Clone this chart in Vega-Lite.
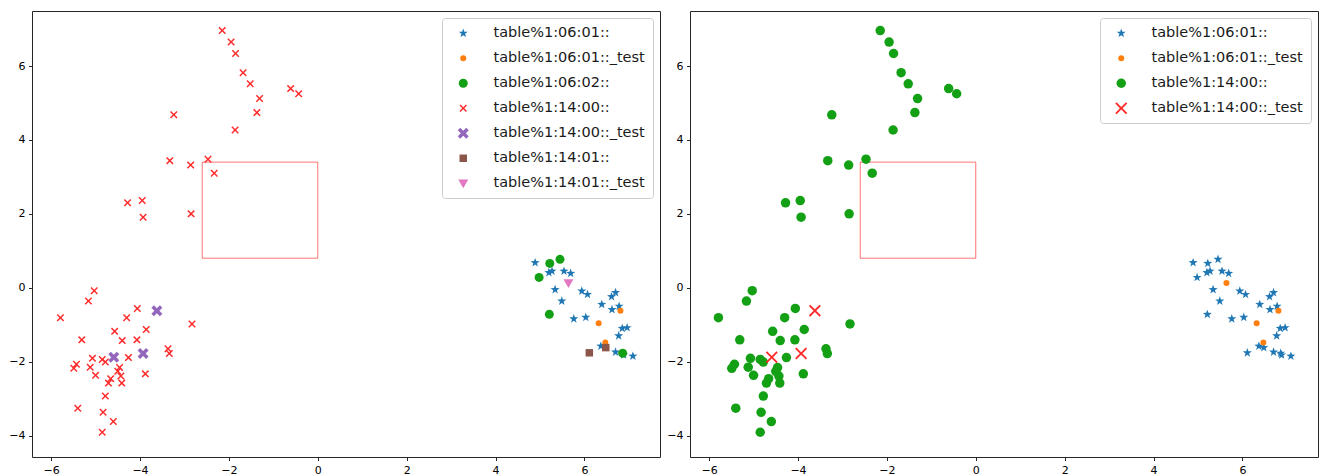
{
  "$schema": "https://vega.github.io/schema/vega-lite/v6.json",
  "background": "white",
  "padding": {"top": 10, "left": 8, "right": 0, "bottom": 0},
  "spacing": 5,
  "datasets": {
    "box": [{"x0": -2.6, "x1": 0, "y0": 0.8, "y1": 3.4}],
    "pts": [
      {"x": -2.15, "y": 6.96, "l": "table%1:14:00::", "r": "table%1:14:00::"},
      {"x": -1.95, "y": 6.65, "l": "table%1:14:00::", "r": "table%1:14:00::"},
      {"x": -1.85, "y": 6.34, "l": "table%1:14:00::", "r": "table%1:14:00::"},
      {"x": -1.68, "y": 5.82, "l": "table%1:14:00::", "r": "table%1:14:00::"},
      {"x": -1.52, "y": 5.52, "l": "table%1:14:00::", "r": "table%1:14:00::"},
      {"x": -1.31, "y": 5.12, "l": "table%1:14:00::", "r": "table%1:14:00::"},
      {"x": -1.37, "y": 4.74, "l": "table%1:14:00::", "r": "table%1:14:00::"},
      {"x": -1.86, "y": 4.27, "l": "table%1:14:00::", "r": "table%1:14:00::"},
      {"x": -0.61, "y": 5.39, "l": "table%1:14:00::", "r": "table%1:14:00::"},
      {"x": -0.43, "y": 5.25, "l": "table%1:14:00::", "r": "table%1:14:00::"},
      {"x": -3.24, "y": 4.68, "l": "table%1:14:00::", "r": "table%1:14:00::"},
      {"x": -3.33, "y": 3.44, "l": "table%1:14:00::", "r": "table%1:14:00::"},
      {"x": -2.86, "y": 3.32, "l": "table%1:14:00::", "r": "table%1:14:00::"},
      {"x": -2.47, "y": 3.48, "l": "table%1:14:00::", "r": "table%1:14:00::"},
      {"x": -2.33, "y": 3.10, "l": "table%1:14:00::", "r": "table%1:14:00::"},
      {"x": -4.28, "y": 2.30, "l": "table%1:14:00::", "r": "table%1:14:00::"},
      {"x": -3.95, "y": 2.36, "l": "table%1:14:00::", "r": "table%1:14:00::"},
      {"x": -3.93, "y": 1.91, "l": "table%1:14:00::", "r": "table%1:14:00::"},
      {"x": -2.85, "y": 2.00, "l": "table%1:14:00::", "r": "table%1:14:00::"},
      {"x": -5.03, "y": -0.08, "l": "table%1:14:00::", "r": "table%1:14:00::"},
      {"x": -5.16, "y": -0.36, "l": "table%1:14:00::", "r": "table%1:14:00::"},
      {"x": -5.79, "y": -0.81, "l": "table%1:14:00::", "r": "table%1:14:00::"},
      {"x": -4.06, "y": -0.56, "l": "table%1:14:00::", "r": "table%1:14:00::"},
      {"x": -4.30, "y": -0.81, "l": "table%1:14:00::", "r": "table%1:14:00::"},
      {"x": -2.83, "y": -0.98, "l": "table%1:14:00::", "r": "table%1:14:00::"},
      {"x": -3.86, "y": -1.13, "l": "table%1:14:00::", "r": "table%1:14:00::"},
      {"x": -4.57, "y": -1.18, "l": "table%1:14:00::", "r": "table%1:14:00::"},
      {"x": -5.31, "y": -1.41, "l": "table%1:14:00::", "r": "table%1:14:00::"},
      {"x": -4.40, "y": -1.43, "l": "table%1:14:00::", "r": "table%1:14:00::"},
      {"x": -4.07, "y": -1.41, "l": "table%1:14:00::", "r": "table%1:14:00::"},
      {"x": -3.37, "y": -1.65, "l": "table%1:14:00::", "r": "table%1:14:00::"},
      {"x": -3.34, "y": -1.78, "l": "table%1:14:00::", "r": "table%1:14:00::"},
      {"x": -4.26, "y": -1.89, "l": "table%1:14:00::", "r": "table%1:14:00::"},
      {"x": -5.07, "y": -1.91, "l": "table%1:14:00::", "r": "table%1:14:00::"},
      {"x": -4.85, "y": -1.94, "l": "table%1:14:00::", "r": "table%1:14:00::"},
      {"x": -4.78, "y": -2.01, "l": "table%1:14:00::", "r": "table%1:14:00::"},
      {"x": -5.43, "y": -2.07, "l": "table%1:14:00::", "r": "table%1:14:00::"},
      {"x": -5.49, "y": -2.18, "l": "table%1:14:00::", "r": "table%1:14:00::"},
      {"x": -5.12, "y": -2.15, "l": "table%1:14:00::", "r": "table%1:14:00::"},
      {"x": -4.46, "y": -2.16, "l": "table%1:14:00::", "r": "table%1:14:00::"},
      {"x": -4.50, "y": -2.26, "l": "table%1:14:00::", "r": "table%1:14:00::"},
      {"x": -5.00, "y": -2.37, "l": "table%1:14:00::", "r": "table%1:14:00::"},
      {"x": -4.43, "y": -2.39, "l": "table%1:14:00::", "r": "table%1:14:00::"},
      {"x": -4.66, "y": -2.46, "l": "table%1:14:00::", "r": "table%1:14:00::"},
      {"x": -4.71, "y": -2.58, "l": "table%1:14:00::", "r": "table%1:14:00::"},
      {"x": -4.41, "y": -2.58, "l": "table%1:14:00::", "r": "table%1:14:00::"},
      {"x": -3.88, "y": -2.33, "l": "table%1:14:00::", "r": "table%1:14:00::"},
      {"x": -4.78, "y": -2.93, "l": "table%1:14:00::", "r": "table%1:14:00::"},
      {"x": -5.40, "y": -3.26, "l": "table%1:14:00::", "r": "table%1:14:00::"},
      {"x": -4.83, "y": -3.37, "l": "table%1:14:00::", "r": "table%1:14:00::"},
      {"x": -4.60, "y": -3.62, "l": "table%1:14:00::", "r": "table%1:14:00::"},
      {"x": -4.85, "y": -3.91, "l": "table%1:14:00::", "r": "table%1:14:00::"},
      {"x": -3.62, "y": -0.62, "l": "table%1:14:00::_test", "r": "table%1:14:00::_test"},
      {"x": -4.59, "y": -1.88, "l": "table%1:14:00::_test", "r": "table%1:14:00::_test"},
      {"x": -3.93, "y": -1.78, "l": "table%1:14:00::_test", "r": "table%1:14:00::_test"},
      {"x": 4.89, "y": 0.68, "l": "table%1:06:01::", "r": "table%1:06:01::"},
      {"x": 5.22, "y": 0.66, "l": "table%1:06:02::", "r": "table%1:06:01::"},
      {"x": 5.45, "y": 0.77, "l": "table%1:06:02::", "r": "table%1:06:01::"},
      {"x": 4.98, "y": 0.28, "l": "table%1:06:02::", "r": "table%1:06:01::"},
      {"x": 5.20, "y": 0.41, "l": "table%1:06:01::", "r": "table%1:06:01::"},
      {"x": 5.27, "y": 0.45, "l": "table%1:06:01::", "r": "table%1:06:01::"},
      {"x": 5.54, "y": 0.45, "l": "table%1:06:01::", "r": "table%1:06:01::"},
      {"x": 5.69, "y": 0.39, "l": "table%1:06:01::", "r": "table%1:06:01::"},
      {"x": 5.34, "y": -0.05, "l": "table%1:06:01::", "r": "table%1:06:01::"},
      {"x": 5.94, "y": -0.09, "l": "table%1:06:01::", "r": "table%1:06:01::"},
      {"x": 6.07, "y": -0.18, "l": "table%1:06:01::", "r": "table%1:06:01::"},
      {"x": 5.49, "y": -0.36, "l": "table%1:06:01::", "r": "table%1:06:01::"},
      {"x": 5.21, "y": -0.72, "l": "table%1:06:02::", "r": "table%1:06:01::"},
      {"x": 5.76, "y": -0.84, "l": "table%1:06:01::", "r": "table%1:06:01::"},
      {"x": 6.03, "y": -0.80, "l": "table%1:06:01::", "r": "table%1:06:01::"},
      {"x": 6.39, "y": -0.45, "l": "table%1:06:01::", "r": "table%1:06:01::"},
      {"x": 6.62, "y": -0.59, "l": "table%1:06:01::", "r": "table%1:06:01::"},
      {"x": 6.61, "y": -0.24, "l": "table%1:06:01::", "r": "table%1:06:01::"},
      {"x": 6.70, "y": -0.13, "l": "table%1:06:01::", "r": "table%1:06:01::"},
      {"x": 6.78, "y": -0.50, "l": "table%1:06:01::", "r": "table%1:06:01::"},
      {"x": 6.85, "y": -1.10, "l": "table%1:06:01::", "r": "table%1:06:01::"},
      {"x": 6.96, "y": -1.08, "l": "table%1:06:01::", "r": "table%1:06:01::"},
      {"x": 6.77, "y": -1.30, "l": "table%1:06:01::", "r": "table%1:06:01::"},
      {"x": 6.37, "y": -1.58, "l": "table%1:06:01::", "r": "table%1:06:01::"},
      {"x": 6.48, "y": -1.62, "l": "table%1:14:01::", "r": "table%1:06:01::"},
      {"x": 6.11, "y": -1.76, "l": "table%1:14:01::", "r": "table%1:06:01::"},
      {"x": 6.70, "y": -1.74, "l": "table%1:06:01::", "r": "table%1:06:01::"},
      {"x": 6.86, "y": -1.77, "l": "table%1:06:02::", "r": "table%1:06:01::"},
      {"x": 6.88, "y": -1.82, "l": "table%1:06:01::", "r": "table%1:06:01::"},
      {"x": 7.09, "y": -1.85, "l": "table%1:06:01::", "r": "table%1:06:01::"},
      {"x": 5.64, "y": 0.13, "l": "table%1:14:01::_test", "r": "table%1:06:01::_test"},
      {"x": 6.81, "y": -0.62, "l": "table%1:06:01::_test", "r": "table%1:06:01::_test"},
      {"x": 6.32, "y": -0.96, "l": "table%1:06:01::_test", "r": "table%1:06:01::_test"},
      {"x": 6.47, "y": -1.48, "l": "table%1:06:01::_test", "r": "table%1:06:01::_test"}
    ]
  },
  "hconcat": [
    {
      "width": 628,
      "height": 446,
      "layer": [
        {
          "data": {"name": "box"},
          "mark": {"type": "rect", "filled": false, "stroke": "#ff0000", "strokeOpacity": 0.55, "strokeWidth": 1},
          "encoding": {
            "x": {"field": "x0", "type": "quantitative", "scale": {"domain": [-6.43, 7.7], "nice": false, "zero": false}, "axis": {"values": [-6, -4, -2, 0, 2, 4, 6], "title": null}},
            "x2": {"field": "x1"},
            "y": {"field": "y0", "type": "quantitative", "scale": {"domain": [-4.58, 7.49], "nice": false, "zero": false}, "axis": {"values": [-4, -2, 0, 2, 4, 6], "title": null}},
            "y2": {"field": "y1"}
          }
        },
        {
          "data": {"name": "pts"},
          "mark": {"type": "point", "filled": true, "opacity": 1, "strokeWidth": 0},
          "encoding": {
            "x": {"field": "x", "type": "quantitative", "title": null},
            "y": {"field": "y", "type": "quantitative", "title": null},
            "color": {
              "field": "l", "type": "nominal", "legend": {"title": null},
              "scale": {
                "domain": ["table%1:06:01::", "table%1:06:01::_test", "table%1:06:02::", "table%1:14:00::", "table%1:14:00::_test", "table%1:14:01::", "table%1:14:01::_test"],
                "range": ["#1f77b4", "#ff7f0e", "#14a014", "#ff2a2a", "#9467bd", "#8c564b", "#e377c2"]
              }
            },
            "shape": {
              "field": "l", "type": "nominal", "legend": {"title": null},
              "scale": {
                "domain": ["table%1:06:01::", "table%1:06:01::_test", "table%1:06:02::", "table%1:14:00::", "table%1:14:00::_test", "table%1:14:01::", "table%1:14:01::_test"],
                "range": [
                  "M0,-1L0.235,-0.324L0.951,-0.309L0.38,0.124L0.588,0.809L0,0.4L-0.588,0.809L-0.38,0.124L-0.951,-0.309L-0.235,-0.324Z",
                  "circle",
                  "circle",
                  "M0.724,-1L1,-0.724L0.276,0L1,0.724L0.724,1L0,0.276L-0.724,1L-1,0.724L-0.276,0L-1,-0.724L-0.724,-1L0,-0.276Z",
                  "M0.54,-1L1,-0.54L0.46,0L1,0.54L0.54,1L0,0.46L-0.54,1L-1,0.54L-0.46,0L-1,-0.54L-0.54,-1L0,-0.46Z",
                  "square",
                  "M-1,-0.75L1,-0.75L0,1Z"
                ]
              }
            },
            "size": {
              "field": "l", "type": "nominal", "legend": {"title": null},
              "scale": {
                "type": "ordinal",
                "domain": ["table%1:06:01::", "table%1:06:01::_test", "table%1:06:02::", "table%1:14:00::", "table%1:14:00::_test", "table%1:14:01::", "table%1:14:01::_test"],
                "range": [90, 36, 81, 56, 121, 56, 100]
              }
            },
            "order": {"field": "l", "type": "ordinal", "sort": "ascending"}
          }
        }
      ]
    },
    {
      "width": 628,
      "height": 446,
      "layer": [
        {
          "data": {"name": "box"},
          "mark": {"type": "rect", "filled": false, "stroke": "#ff0000", "strokeOpacity": 0.55, "strokeWidth": 1},
          "encoding": {
            "x": {"field": "x0", "type": "quantitative", "scale": {"domain": [-6.43, 7.7], "nice": false, "zero": false}, "axis": {"values": [-6, -4, -2, 0, 2, 4, 6], "title": null}},
            "x2": {"field": "x1"},
            "y": {"field": "y0", "type": "quantitative", "scale": {"domain": [-4.58, 7.49], "nice": false, "zero": false}, "axis": {"values": [-4, -2, 0, 2, 4, 6], "title": null}},
            "y2": {"field": "y1"}
          }
        },
        {
          "data": {"name": "pts"},
          "mark": {"type": "point", "filled": true, "opacity": 1, "strokeWidth": 0},
          "encoding": {
            "x": {"field": "x", "type": "quantitative", "title": null},
            "y": {"field": "y", "type": "quantitative", "title": null},
            "color": {
              "field": "r", "type": "nominal", "legend": {"title": null},
              "scale": {
                "domain": ["table%1:06:01::", "table%1:06:01::_test", "table%1:14:00::", "table%1:14:00::_test"],
                "range": ["#1f77b4", "#ff7f0e", "#14a014", "#ff2a2a"]
              }
            },
            "shape": {
              "field": "r", "type": "nominal", "legend": {"title": null},
              "scale": {
                "domain": ["table%1:06:01::", "table%1:06:01::_test", "table%1:14:00::", "table%1:14:00::_test"],
                "range": [
                  "M0,-1L0.235,-0.324L0.951,-0.309L0.38,0.124L0.588,0.809L0,0.4L-0.588,0.809L-0.38,0.124L-0.951,-0.309L-0.235,-0.324Z",
                  "circle",
                  "circle",
                  "M0.78,-1L1,-0.78L0.22,0L1,0.78L0.78,1L0,0.22L-0.78,1L-1,0.78L-0.22,0L-1,-0.78L-0.78,-1L0,-0.22Z"
                ]
              }
            },
            "size": {
              "field": "r", "type": "nominal", "legend": {"title": null},
              "scale": {
                "type": "ordinal",
                "domain": ["table%1:06:01::", "table%1:06:01::_test", "table%1:14:00::", "table%1:14:00::_test"],
                "range": [90, 36, 90, 144]
              }
            },
            "order": {"field": "r", "type": "ordinal", "sort": "ascending"}
          }
        }
      ]
    }
  ],
  "resolve": {
    "scale": {"color": "independent", "shape": "independent", "size": "independent"},
    "legend": {"color": "independent", "shape": "independent", "size": "independent"}
  },
  "config": {
    "font": "DejaVu Sans",
    "view": {"stroke": "#262626", "strokeWidth": 1},
    "axis": {
      "grid": false,
      "domain": false,
      "ticks": true,
      "tickColor": "#262626",
      "tickSize": 3.5,
      "tickWidth": 1,
      "labelFont": "DejaVu Sans",
      "labelFontSize": 11,
      "labelColor": "#000000",
      "labelPadding": 3.5
    },
    "axisY": {"minExtent": 22, "maxExtent": 22},
    "legend": {
      "orient": "top-right",
      "offset": 7,
      "padding": 8,
      "fillColor": "rgba(255,255,255,0.85)",
      "strokeColor": "#cccccc",
      "strokeWidth": 1,
      "cornerRadius": 3,
      "labelFont": "DejaVu Sans",
      "labelFontSize": 14.5,
      "labelColor": "#1a1a1a",
      "labelLimit": 400,
      "rowPadding": 10,
      "labelOffset": 23,
      "symbolOffset": 6,
      "symbolStrokeWidth": 0
    }
  }
}
